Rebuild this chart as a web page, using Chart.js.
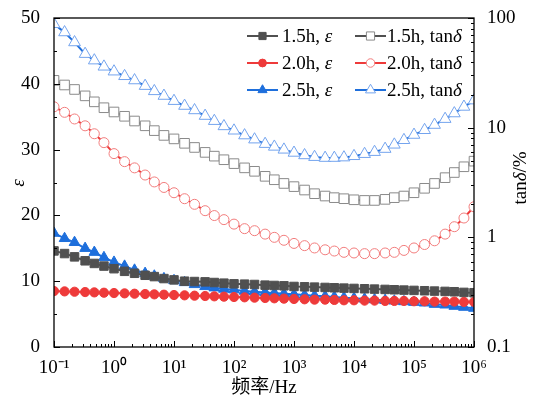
<!DOCTYPE html>
<html>
<head>
<meta charset="utf-8">
<script src="https://cdn.jsdelivr.net/npm/chart.js@4"></script>
<style>
html, body { margin: 0; padding: 0; background: #fff; }
#wrap { width: 534px; height: 404px; position: relative; }
</style>
</head>
<body>
<div id="wrap"><canvas id="dielectricChart"></canvas></div>
<script>
// frequency points (Hz)
var frequency = [0.1, 0.15, 0.22, 0.33, 0.47, 0.68, 1, 1.5, 2.2, 3.3, 4.7, 6.8,
    10, 15, 22, 33, 47, 68, 100, 150, 220, 330, 470, 680, 1000, 1500, 2200, 3300, 4700, 6800,
    1e4, 1.5e4, 2.2e4, 3.3e4, 4.7e4, 6.8e4, 1e5, 1.5e5, 2.2e5, 3.3e5, 4.7e5, 6.8e5, 1e6];

// permittivity
var eps15 = [14.6, 14.2, 13.7, 13.1, 12.7, 12.3, 11.9, 11.5, 11.2, 10.9, 10.7, 10.4, 10.2, 10.0, 9.95,
    9.9, 9.8, 9.7, 9.6, 9.55, 9.5, 9.4, 9.35, 9.3, 9.2, 9.15, 9.1, 9.05, 9.0, 8.95, 8.9, 8.85, 8.8,
    8.75, 8.7, 8.65, 8.6, 8.55, 8.5, 8.45, 8.4, 8.3, 8.25];
var eps20 = [8.5, 8.45, 8.4, 8.35, 8.3, 8.25, 8.2, 8.15, 8.1, 8.05, 8.0, 7.95, 7.9, 7.85, 7.8, 7.75,
    7.7, 7.65, 7.6, 7.55, 7.5, 7.45, 7.4, 7.35, 7.3, 7.25, 7.2, 7.2, 7.15, 7.1, 7.1, 7.05, 7.05, 7.0,
    7.0, 7.0, 6.95, 6.95, 6.9, 6.9, 6.9, 6.85, 6.85];
var eps25 = [17.3, 16.5, 15.9, 15.0, 14.4, 13.6, 12.9, 12.3, 11.7, 11.2, 10.8, 10.4, 10.1, 9.8, 9.5,
    9.2, 9.0, 8.8, 8.7, 8.5, 8.4, 8.3, 8.2, 8.1, 8.0, 7.9, 7.8, 7.7, 7.6, 7.5, 7.4, 7.3, 7.2, 7.1,
    7.0, 6.9, 6.8, 6.7, 6.5, 6.4, 6.2, 6.05, 5.9];

// loss tangent (%)
var tan15 = [27, 24.5, 22.3, 19.5, 17.2, 15.2, 13.9, 12.7, 11.5, 10.4, 9.4, 8.5, 7.9, 7.2, 6.6, 5.95,
    5.5, 5.1, 4.7, 4.3, 4.0, 3.6, 3.35, 3.1, 2.9, 2.7, 2.5, 2.38, 2.3, 2.25, 2.2, 2.17, 2.17, 2.22,
    2.3, 2.38, 2.55, 2.8, 3.1, 3.5, 3.9, 4.4, 4.95];
var tan20 = [15.5, 13.8, 12.0, 10.4, 8.8, 7.3, 5.8, 4.9, 4.3, 3.7, 3.2, 2.85, 2.55, 2.25, 2.0, 1.75,
    1.58, 1.45, 1.32, 1.2, 1.15, 1.07, 1.0, 0.94, 0.88, 0.84, 0.8, 0.77, 0.75, 0.73, 0.72, 0.71, 0.71,
    0.72, 0.73, 0.76, 0.8, 0.86, 0.93, 1.07, 1.25, 1.5, 1.9];
var tan25 = [88, 74, 60, 47, 41, 36, 32.5, 29.5, 27, 24, 21.5, 19.5, 17.5, 15.8, 14.4, 12.8, 11.5,
    10.3, 9.4, 8.5, 7.8, 7.1, 6.7, 6.3, 5.9, 5.6, 5.4, 5.3, 5.3, 5.35, 5.5, 5.75, 6.0, 6.4, 7.0, 7.7,
    8.6, 9.5, 10.6, 12, 13.5, 15.5, 17.7];

var xTickValues = [0.1, 1, 10, 100, 1000, 1e4, 1e5, 1e6];
var xTickLabels = ["10\u207B\u00B9", "10\u2070", "10\u00B9", "10\u00B2", "10\u00B3", "10\u2074", "10\u2075", "10\u2076"];
var epsTickValues = [0, 10, 20, 30, 40, 50];
var tanTickValues = [0.1, 1, 10, 100];
var tanTickLabels = ["0.1", "1", "10", "100"];
var sampleNames = ["1.5h", "2.0h", "2.5h"];

var serif = "'Liberation Serif', 'Times New Roman', 'Noto Sans CJK SC', serif";

function pairs(values) {
    return values.map(function (v, i) {
        return { x: frequency[i], y: v };
    });
}

function epsSet(name, values, color, style, radius) {
    return {
        label: name + ", ε", kind: "eps", name: name,
        data: pairs(values), yAxisID: "y",
        borderColor: color, backgroundColor: color,
        pointBackgroundColor: color, pointBorderColor: color,
        pointStyle: style, pointRadius: radius, pointHoverRadius: radius,
        pointBorderWidth: 1, borderWidth: 2, tension: 0
    };
}

function tanSet(name, values, lineColor, markColor, style, radius) {
    return {
        label: name + ", tanδ", kind: "tan", name: name,
        data: pairs(values), yAxisID: "y2",
        borderColor: lineColor, backgroundColor: "#ffffff",
        pointBackgroundColor: "#ffffff", pointBorderColor: markColor,
        pointStyle: style, pointRadius: radius, pointHoverRadius: radius,
        pointBorderWidth: 1, borderWidth: 2, tension: 0
    };
}

// inward ticks and the frame
var framePlugin = {
    id: "frame",
    afterDraw: function (chart) {
        var ctx = chart.ctx, a = chart.chartArea;
        var x = chart.scales.x, y = chart.scales.y, y2 = chart.scales.y2;
        ctx.save();
        ctx.strokeStyle = "#000";
        ctx.lineWidth = 1.3;
        ctx.strokeRect(a.left, a.top, a.right - a.left, a.bottom - a.top);
        ctx.lineWidth = 1;
        ctx.beginPath();
        for (var d = -1; d <= 6; d++) {
            for (var m = 1; m <= 9; m++) {
                var v = m * Math.pow(10, d);
                if (v > 1e6 * 1.0001) break;
                var px = Math.round(x.getPixelForValue(v)) + 0.5;
                var len = m === 1 ? 6 : 3;
                ctx.moveTo(px, a.bottom);
                ctx.lineTo(px, a.bottom - len);
            }
        }
        for (var e = 0; e <= 50; e += 5) {
            var py = Math.round(y.getPixelForValue(e)) + 0.5;
            ctx.moveTo(a.left, py);
            ctx.lineTo(a.left + (e % 10 === 0 ? 6 : 3), py);
        }
        for (var k = -1; k <= 2; k++) {
            for (var n = 1; n <= 9; n++) {
                var t = n * Math.pow(10, k);
                if (t > 100.001) break;
                var qy = Math.round(y2.getPixelForValue(t)) + 0.5;
                ctx.moveTo(a.right, qy);
                ctx.lineTo(a.right - (n === 1 ? 6 : 3), qy);
            }
        }
        ctx.stroke();
        ctx.restore();
    }
};

function mixedText(ctx, parts, x, y) {
    var cx = x;
    parts.forEach(function (p) {
        ctx.font = (p.italic ? "italic " : "") + "19px " + serif;
        ctx.fillText(p.text, cx, y);
        cx += ctx.measureText(p.text).width;
    });
    return cx - x;
}

function measureMixed(ctx, parts) {
    var w = 0;
    parts.forEach(function (p) {
        ctx.font = (p.italic ? "italic " : "") + "19px " + serif;
        w += ctx.measureText(p.text).width;
    });
    return w;
}

// legend in two columns and the axis titles
var textPlugin = {
    id: "texts",
    afterDraw: function (chart) {
        var ctx = chart.ctx;
        ctx.save();
        ctx.fillStyle = "#000";
        ctx.textBaseline = "middle";
        ctx.textAlign = "left";
        var rows = [36, 63, 90];
        var cols = [{ lx: 247, tx: 282 }, { lx: 355, tx: 387 }];
        chart.data.datasets.forEach(function (ds) {
            var row = sampleNames.indexOf(ds.name);
            var col = ds.kind === "eps" ? cols[0] : cols[1];
            var yy = rows[row];
            ctx.strokeStyle = ds.borderColor;
            ctx.lineWidth = 2;
            ctx.beginPath();
            ctx.moveTo(col.lx, yy);
            ctx.lineTo(col.lx + 31, yy);
            ctx.stroke();
            ctx.fillStyle = ds.pointBackgroundColor;
            ctx.strokeStyle = ds.pointBorderColor;
            ctx.lineWidth = 1;
            Chart.helpers.drawPoint(ctx, {
                pointStyle: ds.pointStyle, radius: ds.pointRadius * 0.85,
                rotation: 0, borderWidth: 1
            }, col.lx + 15.5, yy);
            ctx.fillStyle = "#000";
            var parts = ds.kind === "eps"
                ? [{ text: ds.name + ", " }, { text: "ε", italic: true }]
                : [{ text: ds.name + ", tan" }, { text: "δ", italic: true }];
            mixedText(ctx, parts, col.tx, yy + 1);
        });

        // x title
        ctx.font = "19px " + serif;
        ctx.textAlign = "center";
        ctx.fillText("频率/Hz", 264, 388);

        // left title
        ctx.save();
        ctx.translate(19, 183);
        ctx.rotate(-Math.PI / 2);
        ctx.textAlign = "left";
        var lp = [{ text: "ε", italic: true }];
        mixedText(ctx, lp, -measureMixed(ctx, lp) / 2, 0);
        ctx.restore();

        // right title
        ctx.save();
        ctx.translate(521, 178);
        ctx.rotate(-Math.PI / 2);
        ctx.textAlign = "left";
        var rp = [{ text: "tan" }, { text: "δ", italic: true }, { text: "/%" }];
        mixedText(ctx, rp, -measureMixed(ctx, rp) / 2, 0);
        ctx.restore();
        ctx.restore();
    }
};

var tickFont = { family: serif, size: 19 };

new Chart(document.getElementById("dielectricChart").getContext("2d"), {
    type: "line",
    data: {
        datasets: [
            epsSet("1.5h", eps15, "#505050", "rect", 6),
            epsSet("2.0h", eps20, "#ee3a3a", "circle", 4.6),
            epsSet("2.5h", eps25, "#1e6fdc", "triangle", 6.2),
            tanSet("1.5h", tan15, "#505050", "#8a8a8a", "rect", 6.8),
            tanSet("2.0h", tan20, "#ee3a3a", "#f27d7d", "circle", 5),
            tanSet("2.5h", tan25, "#1e6fdc", "#74a4ee", "triangle", 6.8)
        ]
    },
    options: {
        responsive: true,
        maintainAspectRatio: false,
        animation: false,
        layout: { padding: { top: 18, left: 0, right: 0, bottom: 0 } },
        plugins: {
            legend: { display: false },
            tooltip: { enabled: false },
            title: { display: false }
        },
        scales: {
            x: {
                type: "logarithmic",
                position: "bottom",
                min: 0.1,
                max: 1e6,
                grid: { display: false },
                border: { display: false },
                afterBuildTicks: function (scale) {
                    scale.ticks = xTickValues.map(function (v) { return { value: v }; });
                },
                afterFit: function (scale) { scale.height = 57; },
                ticks: {
                    autoSkip: false,
                    maxRotation: 0,
                    color: "#000",
                    font: tickFont,
                    padding: 2,
                    callback: function (value, index) { return xTickLabels[index]; }
                }
            },
            y: {
                type: "linear",
                position: "left",
                min: 0,
                max: 50,
                grid: { display: false },
                border: { display: false },
                afterBuildTicks: function (scale) {
                    scale.ticks = epsTickValues.map(function (v) { return { value: v }; });
                },
                afterFit: function (scale) { scale.width = 54; },
                ticks: { color: "#000", font: tickFont, padding: 6 }
            },
            y2: {
                type: "logarithmic",
                position: "right",
                min: 0.1,
                max: 100,
                grid: { display: false },
                border: { display: false },
                afterBuildTicks: function (scale) {
                    scale.ticks = tanTickValues.map(function (v) { return { value: v }; });
                },
                afterFit: function (scale) { scale.width = 60; },
                ticks: {
                    color: "#000",
                    font: tickFont,
                    padding: 5,
                    callback: function (value, index) { return tanTickLabels[index]; }
                }
            }
        }
    },
    plugins: [framePlugin, textPlugin]
});
</script>
</body>
</html>
